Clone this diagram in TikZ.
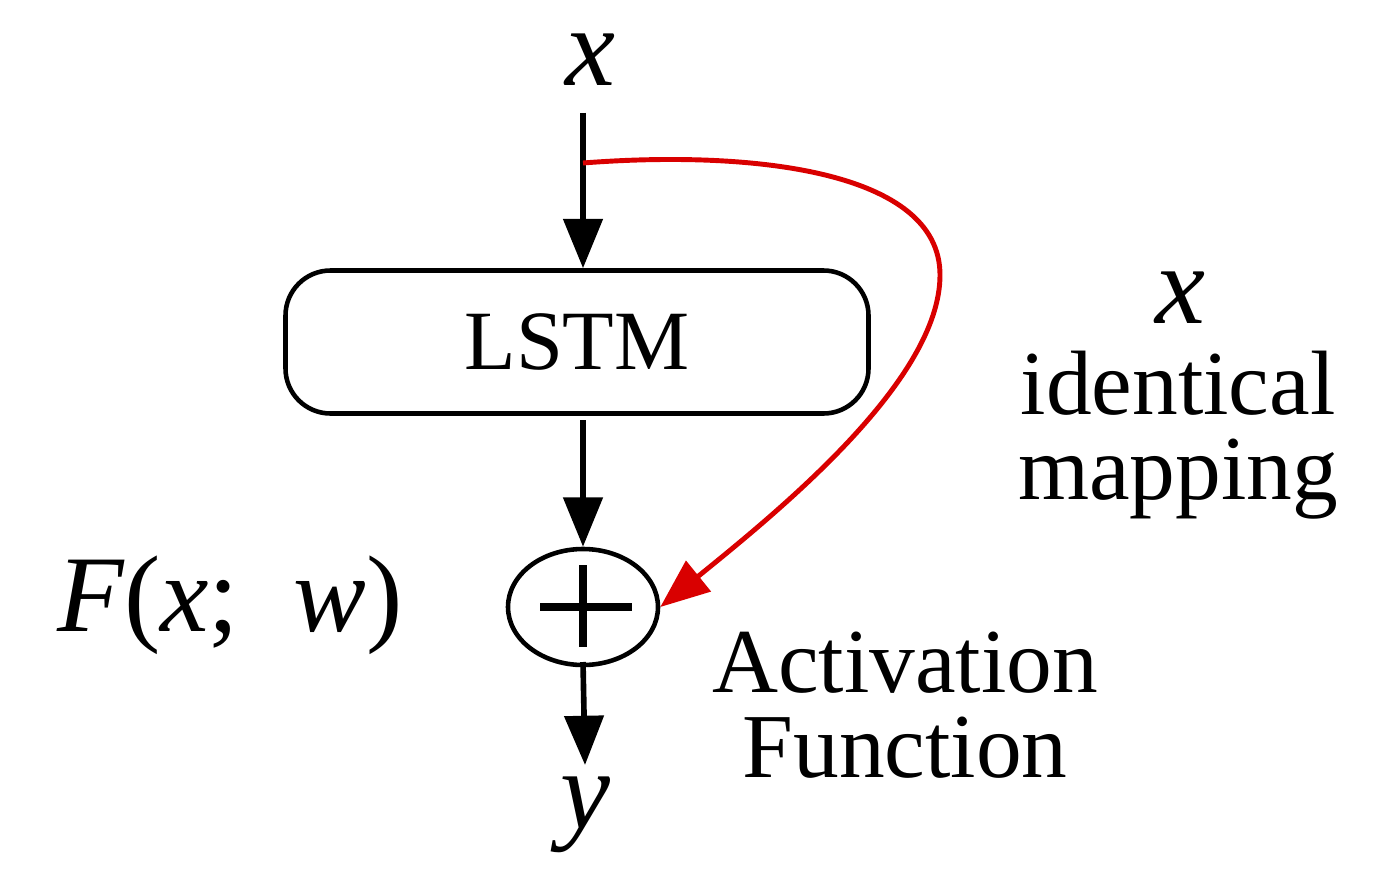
\documentclass[tikz,border=0pt]{standalone}
\usepackage{fontspec}
\setmainfont{Liberation Serif}
\usetikzlibrary{arrows.meta,shapes.geometric}
\begin{document}
\begin{tikzpicture}[x=0.01cm,y=-0.01cm,
  arr/.style={line width=1.6pt,-{Triangle[length=14pt,width=11pt]}},
  big/.style={font=\fontsize{32}{36}\selectfont\itshape},
  lab/.style={font=\fontsize{26}{28}\selectfont, align=center}]
\useasboundingbox (0,0) rectangle (1388,894);
\node[big] (x) at (590,60) {x};
\node[draw,line width=1.3pt,rounded corners=0.45cm,minimum width=583*0.01cm,minimum height=143*0.01cm,font=\fontsize{24}{26}\selectfont] (lstm) at (577,342) {LSTM};
\node[draw,ellipse,line width=1.3pt,minimum width=150*0.01cm,minimum height=116*0.01cm] (sum) at (583,607) {};
\draw[line width=2.4pt] (540,607) -- (632,607) (583,565) -- (583,647);
\node[big] (y) at (585,815) {y};
\coordinate (x1) at (583,113);
\coordinate (br) at (583,163);
\coordinate (l1) at (583,420);
\coordinate (s1) at (583,662);
\draw[arr] (x1) -- (lstm.north -| x1);
\draw[line width=1.6pt] (x1) -- (br);
\draw[arr] (l1) -- (sum.north);
\draw[arr] (s1) -- (585,765);
\draw[red!85!black,line width=1.4pt,-{Triangle[length=14pt,width=11pt]}] (br) .. controls (750,150) and (940,170) .. (940,275) .. controls (940,380) and (780,510) .. (sum.east);
\node[font=\fontsize{31}{36}\selectfont] (F) at (230,605) {\itshape F\upshape(\itshape x\upshape;~~\itshape w\upshape)};
\node[big] (x2) at (1180,298) {x};
\node[lab] (id) at (1178,435) {identical\\[-4pt]mapping};
\node[lab] (act) at (905,705) {Activation\\[-4pt]Function};
\end{tikzpicture}
\end{document}
